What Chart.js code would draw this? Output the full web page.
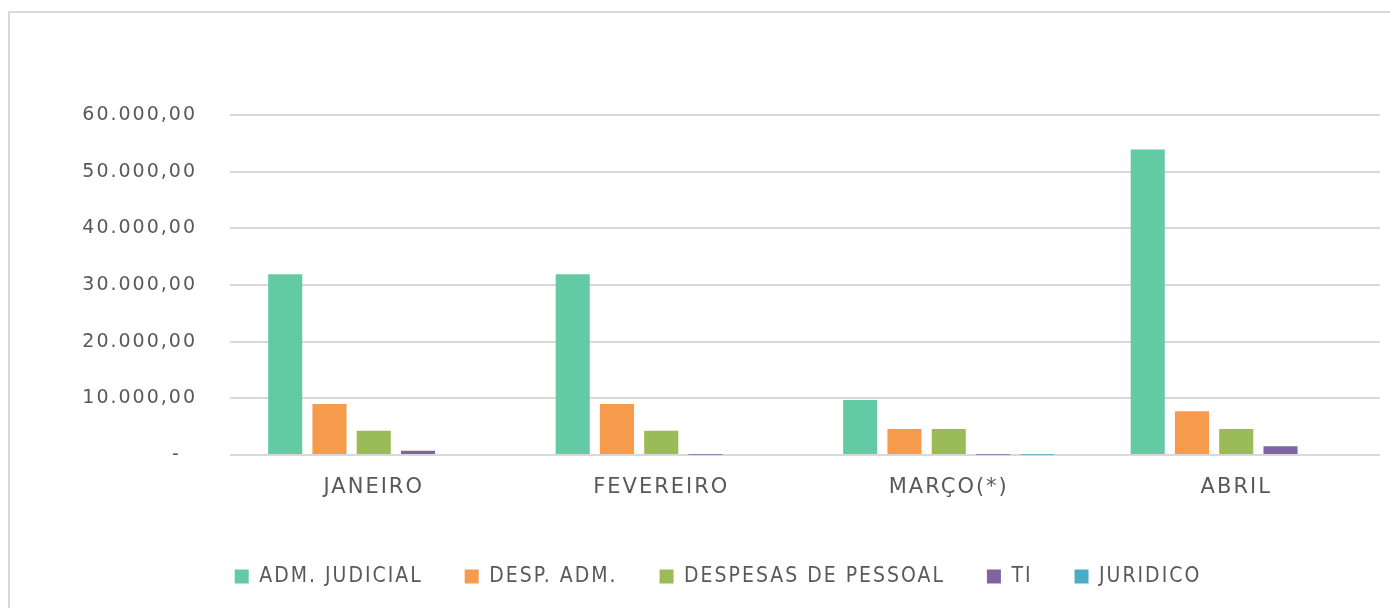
<!DOCTYPE html>
<html>
<head>
<meta charset="utf-8">
<script src="https://cdn.jsdelivr.net/npm/chart.js@4"></script>
<style>
  body { margin: 0; background: #fff; }
  .frame {
    position: absolute; left: 8px; top: 11px; width: 1400px; height: 640px;
    border: 2px solid #d9d9d9; box-sizing: border-box;
  }
  .wrap { position: absolute; left: 0; top: 0; width: 1390px; height: 608px; }
</style>
</head>
<body>
<div class="frame"></div>
<div class="wrap"><canvas id="chart"></canvas></div>
<script>
const months = ["JANEIRO", "FEVEREIRO", "MARÇO(*)", "ABRIL"];
const admJudicial = [31900, 31900, 9700, 53900];
const despAdm = [9000, 9000, 4600, 7700];
const despesasPessoal = [4300, 4300, 4600, 4600];
const ti = [750, 60, 60, 1550];
const juridico = [0, 0, 60, 0];

const tickColor = "#595959";
const spacing = "2px";

// keep canvas letter spacing across resizes / redraws
const spacingPlugin = {
  id: "spacing",
  beforeUpdate(chart) { chart.ctx.letterSpacing = spacing; },
  beforeLayout(chart) { chart.ctx.letterSpacing = spacing; },
  beforeDraw(chart) { chart.ctx.letterSpacing = spacing; }
};

function brl(v) {
  if (v === 0) return "-  ";
  return v.toLocaleString("pt-BR", { minimumFractionDigits: 2, maximumFractionDigits: 2 });
}

new Chart(document.getElementById("chart"), {
  type: "bar",
  data: {
    labels: months,
    datasets: [
      { label: "ADM. JUDICIAL", data: admJudicial, backgroundColor: "#62cba4" },
      { label: "DESP. ADM.", data: despAdm, backgroundColor: "#f69b4c" },
      { label: "DESPESAS DE PESSOAL", data: despesasPessoal, backgroundColor: "#9bbb59" },
      { label: "TI", data: ti, backgroundColor: "#8064a2" },
      { label: "JURIDICO", data: juridico, backgroundColor: "#4bacc6" }
    ]
  },
  plugins: [spacingPlugin],
  options: {
    responsive: true,
    maintainAspectRatio: false,
    animation: false,
    categoryPercentage: 0.77,
    barPercentage: 0.77,
    layout: { padding: { left: 56, right: 10, top: 115, bottom: 11 } },
    plugins: {
      tooltip: { enabled: false },
      legend: {
        position: "bottom",
        labels: {
          boxWidth: 14,
          boxHeight: 14,
          padding: 10,
          color: tickColor,
          font: { family: "DejaVu Sans Condensed", size: 21 },
          generateLabels(chart) {
            const items = Chart.defaults.plugins.legend.labels.generateLabels(chart);
            // wider gap between legend entries, like the original
            items.forEach((it, i) => {
              if (i < items.length - 1) it.text += "    ";
            });
            return items;
          }
        }
      }
    },
    scales: {
      x: {
        grid: { display: false, drawTicks: false },
        border: { display: false },
        ticks: {
          color: tickColor,
          padding: 20,
          font: { family: "DejaVu Sans", size: 21 }
        },
        afterFit(scale) { scale.height = 101; }
      },
      y: {
        min: 0,
        max: 60000,
        grid: { color: "#d9d9d9", lineWidth: 2, drawTicks: false },
        border: { display: false },
        ticks: {
          stepSize: 10000,
          color: tickColor,
          padding: 33,
          font: { family: "DejaVu Sans", size: 19 },
          callback: v => brl(v)
        },
        afterFit(scale) { scale.width = 174; }
      }
    }
  }
});
</script>
</body>
</html>
